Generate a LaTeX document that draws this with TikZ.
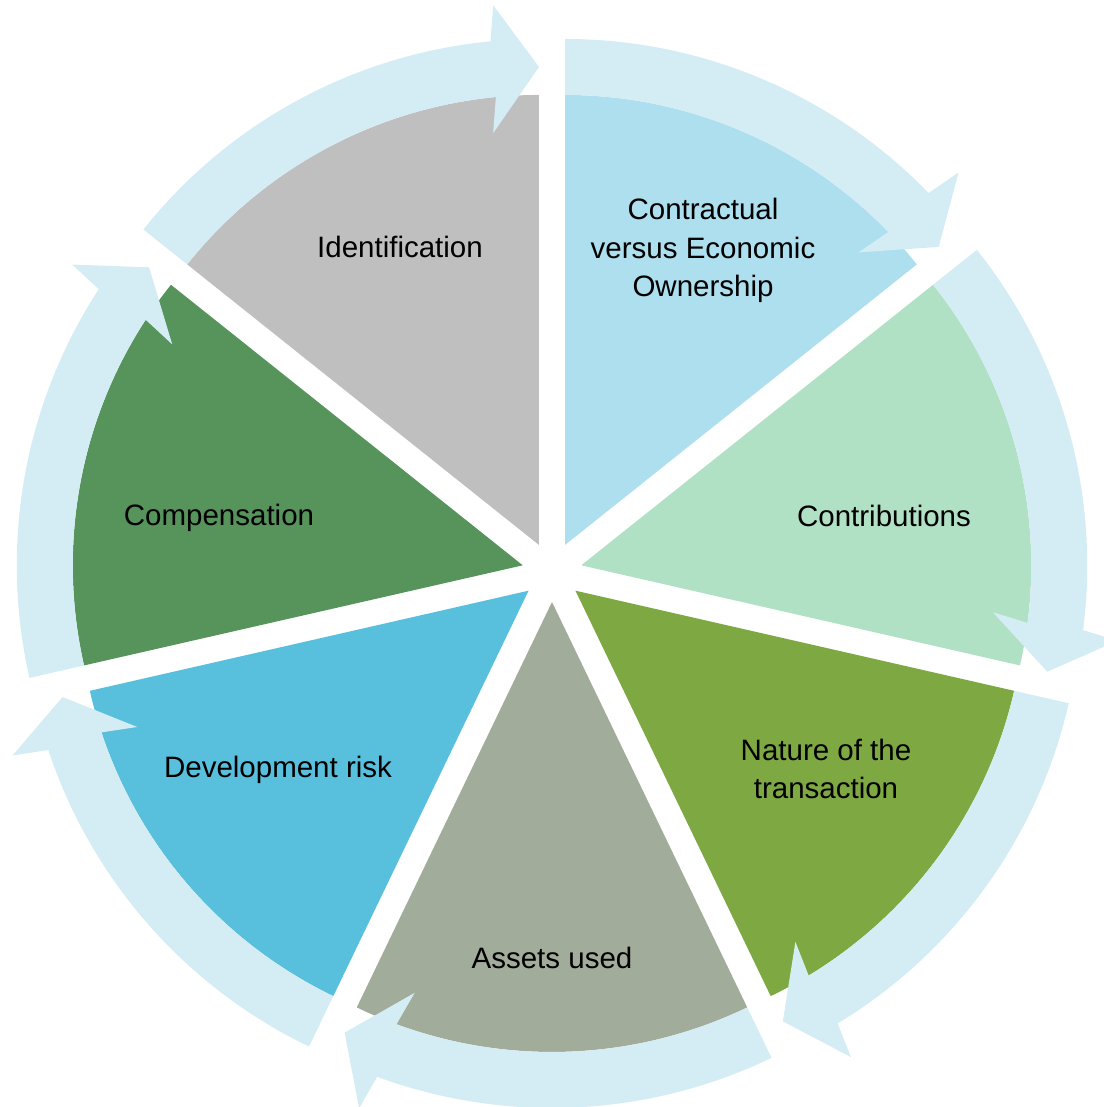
\documentclass[tikz,border=0pt]{standalone}
\usepackage{fontspec}
\setmainfont{Liberation Sans}
\usetikzlibrary{calc}

\definecolor{ringblue}{HTML}{D4ECF4}
\definecolor{contractblue}{HTML}{ADDFEE}
\definecolor{contribgreen}{HTML}{B1E1C5}
\definecolor{naturegreen}{HTML}{7EA842}
\definecolor{assetsgray}{HTML}{A2AC9A}
\definecolor{devblue}{HTML}{58BFDD}
\definecolor{compgreen}{HTML}{56945C}
\definecolor{identgray}{HTML}{BFBFBF}

\begin{document}
\begin{tikzpicture}[x = 1pt, y = 1pt, line join = round]
  \tikzset{lbl/.style = {font = \fontsize{29.5}{38.5}\selectfont, text = black,
      inner sep = 0}}
  \useasboundingbox (0, 0) rectangle (1103, 1107);

  \def\R{450}
  \def\Ro{506}
  \def\Rm{478}
  \def\off{30}
  \def\hw{64}
  \def\hl{5.5}
  \pgfmathsetmacro{\da}{360/7}

  % slices, pushed out from the middle
  \foreach \col [count = \i from 0] in {contractblue, contribgreen, naturegreen,
    assetsgray, devblue, compgreen, identgray} {
    \pgfmathsetmacro{\a}{90 - \i*\da}
    \pgfmathsetmacro{\b}{\a - \da}
    \pgfmathsetmacro{\x}{552 + \off*cos(\a - \da/2)}
    \pgfmathsetmacro{\y}{535 + \off*sin(\a - \da/2)}
    \fill[fill = \col, shift = {(\x, \y)}] (0, 0) -- (\b:\R)
    arc[start angle = \b, end angle = \a, radius = \R] -- cycle;
  }

  % arrows round the outside
  \foreach \i in {0, ..., 6} {
    \pgfmathsetmacro{\a}{90 - \i*\da}
    \pgfmathsetmacro{\b}{\a - \da}
    \pgfmathsetmacro{\x}{552 + \off*cos(\a - \da/2)}
    \pgfmathsetmacro{\y}{535 + \off*sin(\a - \da/2)}
    \fill[ringblue, shift = {(\x, \y)}] (\a:\Ro)
    arc[start angle = \a, end angle = \b + \hl, radius = \Ro]
    -- ($(\b + \hl:\Rm) + (\b:\hw)$) -- (\b:\Rm)
    -- ($(\b + \hl:\Rm) - (\b:\hw)$) -- (\b + \hl:\R)
    arc[start angle = \b + \hl, end angle = \a, radius = \R] -- cycle;
  }

  \node[lbl, anchor = base] (ident) at (400, 849) {Identification};
  \node[lbl, align = center] (contract) at (703, 856.5)
  {Contractual\\versus Economic\\Ownership};
  \node[lbl, anchor = base] (contrib) at (884, 580) {Contributions};
  \node[lbl, align = center] (nature) at (826, 338) {Nature of the\\transaction};
  \node[lbl, anchor = base] (assets) at (552, 138) {Assets used};
  \node[lbl, anchor = base] (devrisk) at (278, 329) {Development risk};
  \node[lbl, anchor = base] (compens) at (219, 581) {Compensation};
\end{tikzpicture}
\end{document}
